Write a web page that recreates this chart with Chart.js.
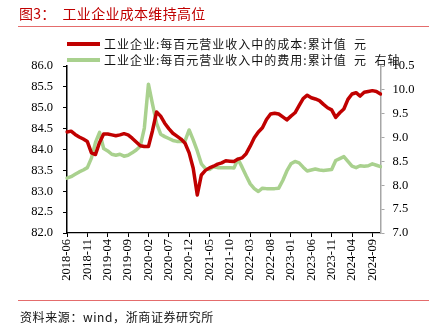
<!DOCTYPE html>
<html>
<head>
<meta charset="utf-8">
<script src="https://cdn.jsdelivr.net/npm/chart.js@4/dist/chart.umd.min.js"></script>
<style>
  html, body { margin:0; padding:0; background:#fff; }
  #wrap { position:relative; width:432px; height:332px; overflow:hidden; }
  #c { position:absolute; left:0; top:0; }
  .title { position:absolute; left:19px; top:3px; font-family:"Noto Sans CJK SC"; font-size:14px; color:#c00000; white-space:pre; letter-spacing:0.3px; line-height:20px; }
  .rule { position:absolute; left:18px; width:411px; height:0; border-top:1.5px solid #e46c6c; }
  .foot { position:absolute; left:20px; top:308px; font-family:"Noto Sans CJK SC"; font-size:12px; color:#111; white-space:pre; letter-spacing:0.6px; line-height:18px; }
</style>
</head>
<body>
<div id="wrap">
  <canvas id="c" width="432" height="332"></canvas>
  <div class="title">图3：  工业企业成本维持高位</div>
  <div class="rule" style="top:25.5px"></div>
  <div class="rule" style="top:299.5px"></div>
  <div class="foot">资料来源：wind，浙商证券研究所</div>
</div>
<script>
const months = [
  "2018-06","2018-07","2018-08","2018-09","2018-10","2018-11","2018-12",
  "2019-01","2019-02","2019-03","2019-04","2019-05","2019-06","2019-07","2019-08","2019-09","2019-10","2019-11","2019-12",
  "2020-01","2020-02","2020-03","2020-04","2020-05","2020-06","2020-07","2020-08","2020-09","2020-10","2020-11","2020-12",
  "2021-01","2021-02","2021-03","2021-04","2021-05","2021-06","2021-07","2021-08","2021-09","2021-10","2021-11","2021-12",
  "2022-01","2022-02","2022-03","2022-04","2022-05","2022-06","2022-07","2022-08","2022-09","2022-10","2022-11","2022-12",
  "2023-01","2023-02","2023-03","2023-04","2023-05","2023-06","2023-07","2023-08","2023-09","2023-10","2023-11","2023-12",
  "2024-01","2024-02","2024-03","2024-04","2024-05","2024-06","2024-07","2024-08","2024-09","2024-10","2024-11"
];

const costPer100 = [
  84.42,84.44,84.36,84.30,84.25,84.19,83.92,
  83.88,84.17,84.37,84.37,84.35,84.33,84.35,84.38,84.35,84.27,84.18,84.09,
  84.07,84.07,84.45,84.90,84.80,84.63,84.50,84.39,84.32,84.25,84.15,83.92,
  83.55,82.91,83.39,83.50,83.56,83.60,83.65,83.68,83.73,83.72,83.71,83.77,
  83.80,83.90,84.08,84.28,84.42,84.52,84.72,84.85,84.87,84.85,84.78,84.71,
  84.80,84.88,85.05,85.22,85.30,85.24,85.21,85.17,85.08,85.00,84.95,84.77,
  84.88,84.97,85.20,85.33,85.36,85.28,85.37,85.39,85.41,85.39,85.33
];

const expensePer100 = [
  8.15,8.18,8.23,8.28,8.32,8.37,8.57,
  8.90,9.11,8.77,8.72,8.65,8.63,8.65,8.61,8.63,8.68,8.74,8.82,
  9.20,10.12,9.70,9.30,9.07,9.02,8.98,8.94,8.92,8.92,8.93,9.16,
  8.95,8.72,8.45,8.35,8.33,8.39,8.37,8.37,8.37,8.37,8.36,8.55,
  8.38,8.20,8.03,7.93,7.87,7.94,7.93,7.93,7.93,7.94,8.10,8.30,
  8.45,8.50,8.47,8.38,8.30,8.32,8.34,8.32,8.31,8.32,8.33,8.52,
  8.56,8.60,8.50,8.40,8.37,8.41,8.40,8.41,8.45,8.42,8.39
];

const seriesNames = [
  "工业企业:每百元营业收入中的成本:累计值  元",
  "工业企业:每百元营业收入中的费用:累计值  元  右轴"
];
const leftTicks = [82.0, 86.0, 0.5];
const rightTicks = [7.0, 10.5, 0.5];

const tickFont = { family: "Liberation Serif", size: 12.5 };

const legendPlugin = {
  id: 'lineLegend',
  afterDraw(chart) {
    const ctx = chart.ctx;
    const x0 = chart.chartArea.left;
    chart.data.datasets.forEach((ds, i) => {
      const y = 44 + i * 16;
      ctx.save();
      ctx.strokeStyle = ds.borderColor;
      ctx.lineWidth = 4;
      ctx.beginPath();
      ctx.moveTo(x0, y);
      ctx.lineTo(x0 + 33, y);
      ctx.stroke();
      ctx.font = '12px "Noto Sans CJK SC"';
      ctx.fillStyle = '#111';
      ctx.textBaseline = 'middle';
      ctx.letterSpacing = '1px';
      ctx.fillText(ds.label, x0 + 37, y);
      ctx.restore();
    });
  }
};

new Chart(document.getElementById('c'), {
  type: 'line',
  data: {
    labels: months,
    datasets: [
      { label: seriesNames[0], data: costPer100, yAxisID: 'yL',
        borderColor: '#c00000', borderWidth: 3.5, pointRadius: 0, tension: 0,
        borderJoinStyle: 'round', borderCapStyle: 'round' },
      { label: seriesNames[1], data: expensePer100, yAxisID: 'yR',
        borderColor: '#a9d18e', borderWidth: 3.5, pointRadius: 0, tension: 0,
        borderJoinStyle: 'round', borderCapStyle: 'round' }
    ]
  },
  options: {
    responsive: false,
    animation: false,
    devicePixelRatio: 1,
    layout: { padding: { top: 66, left: 0, right: 0, bottom: 0 } },
    plugins: { legend: { display: false }, tooltip: { enabled: false }, title: { display: false } },
    scales: {
      x: {
        type: 'category',
        offset: false,
        afterFit(s) { s.height = 99; },
        grid: { drawOnChartArea: false, drawTicks: true, tickLength: 4,
          tickColor: (c) => (c.index % 5 === 0 ? '#000' : 'rgba(0,0,0,0)') },
        border: { color: '#000', width: 1.2 },
        ticks: { autoSkip: false, minRotation: 90, maxRotation: 90, padding: 2,
          color: '#000', font: tickFont,
          callback: (v, i) => (i % 5 === 0 ? months[i] : '') }
      },
      yL: {
        type: 'linear', position: 'left',
        min: leftTicks[0], max: leftTicks[1],
        afterFit(s) { s.width = 67; },
        grid: { drawOnChartArea: false, tickLength: 4, tickColor: '#000' },
        border: { color: '#000', width: 1.5 },
        ticks: { stepSize: leftTicks[2], padding: 10, color: '#000', font: tickFont,
          callback: (v) => Number(v).toFixed(1) }
      },
      yR: {
        type: 'linear', position: 'right',
        min: rightTicks[0], max: rightTicks[1],
        afterFit(s) { s.width = 51.5; },
        grid: { drawOnChartArea: false, tickLength: 4, tickColor: '#a6a6a6' },
        border: { color: '#a6a6a6', width: 1.5 },
        ticks: { stepSize: rightTicks[2], padding: 8, color: '#000', font: tickFont,
          callback: (v) => Number(v).toFixed(1) }
      }
    }
  },
  plugins: [legendPlugin]
});
</script>
</body>
</html>
